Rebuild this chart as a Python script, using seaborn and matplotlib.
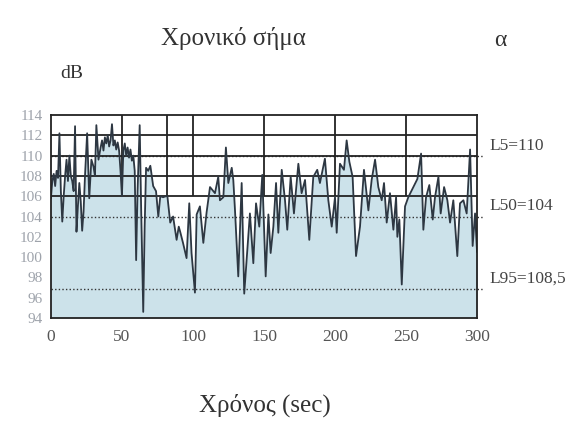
import matplotlib
matplotlib.use("Agg")
import matplotlib.pyplot as plt
import matplotlib.transforms as mtransforms
import seaborn as sns
import pandas as pd

# Χρονικό σήμα - στάθμη θορύβου (dB) ανά δευτερόλεπτο, διαβασμένη από την εικόνα
time_s = [0, 1, 2, 3, 4, 5, 6, 7, 8, 9, 10, 11, 12, 13, 14, 15, 16, 17, 18, 19,
          20, 21, 22, 23, 24, 25.5, 27, 28.5, 30, 31, 32, 33.5, 35, 36, 37, 38,
          39, 40, 41, 42, 43, 44, 45, 46, 47, 48, 49, 50, 51, 52, 53, 54, 55, 56,
          57, 58, 59, 60, 61, 62.5, 63.5, 65, 66, 67, 68.5, 70, 71, 72, 74, 75.6,
          77, 79, 81, 82, 84, 86, 88.5, 90, 91, 93, 95.5, 97.4, 99, 101.4, 102.6,
          104.9, 107.3, 109.6, 112, 115.5, 117.8, 119, 121.4, 123.2, 124.9, 127.3,
          128.4, 129.6, 131.9, 134.3, 136.1, 137.8, 140.1, 142.5, 144.4, 146.7,
          148.8, 151.2, 153.1, 154.7, 156.6, 158.5, 160.1, 162.5, 164.8, 166.4,
          168.8, 171.1, 174.2, 176.5, 178.9, 181.9, 184.7, 187.5, 189.4, 192.9,
          195.3, 197.7, 200, 201.2, 203.5, 206.3, 208.2, 210.1, 212.4, 214.8,
          217.6, 220.4, 223.5, 225.8, 228.2, 230.5, 232.9, 234.5, 236.4, 238.7,
          241.1, 243, 243.9, 245.3, 247, 249.3, 251.6, 255.2, 258, 260.6, 262.2,
          264.1, 266.4, 268.8, 270.4, 272.8, 274.4, 276.8, 279.1, 281, 283.3,
          286.1, 288, 290.4, 292.7, 295.1, 296.9, 298.6, 300]
level_db = [105.8, 107.5, 108.2, 107.0, 108.5, 107.8, 112.2, 106.5, 103.5, 106.0,
            108.0, 109.6, 107.5, 110.0, 108.0, 107.5, 106.5, 112.9, 102.5, 105.0,
            107.3, 105.5, 102.6, 104.5, 108.0, 112.2, 105.8, 109.6, 108.9, 108.0,
            113.0, 109.6, 110.8, 111.5, 110.5, 111.8, 111.2, 112.0, 110.9, 111.5,
            113.1, 111.0, 111.5, 110.6, 111.3, 110.5, 108.5, 106.0, 110.5, 111.2,
            110.0, 110.8, 109.8, 110.6, 109.5, 110.0, 108.5, 99.7, 106.5, 113.0,
            105.0, 94.6, 103.0, 108.8, 108.5, 109.0, 108.0, 107.0, 106.5, 104.0,
            106.0, 105.9, 106.0, 106.0, 103.4, 104.0, 101.7, 103.0, 102.5, 101.4,
            99.9, 105.3, 100.4, 96.5, 104.2,
            105.0, 101.4, 104.4, 106.9, 106.3, 107.9, 105.6, 105.9, 110.8, 107.3,
            108.8, 107.6, 104.6, 98.1, 107.3, 96.4, 99.7, 104.3, 99.4, 105.3,
            103.0, 108.1, 98.1, 104.2, 100.4, 103.0, 107.3, 102.4, 108.6, 105.6,
            102.7, 107.9, 104.3, 109.2, 106.3, 107.6, 101.7, 107.9, 108.6, 107.3,
            109.7, 105.6, 103.0, 105.9, 102.4, 109.2, 108.6, 111.5, 109.4, 107.9,
            100.1,
            103.0, 108.6, 104.6, 107.6, 109.6, 106.9, 105.6, 107.3, 103.4, 106.3,
            102.7, 105.9, 102.0, 103.7, 97.3, 105.0, 105.9, 106.9, 107.7, 110.2,
            102.7, 105.9, 107.1, 103.7, 105.9, 107.9, 104.3, 106.9, 105.6, 103.4,
            105.6, 100.1, 105.3, 105.6, 104.3, 110.6, 101.1, 104.3, 100.5]

x_ticks = [0, 50, 100, 150, 200, 250, 300]
y_ticks = [94, 96, 98, 100, 102, 104, 106, 108, 110, 112, 114]
grid_x = [50, 82, 100, 150, 200, 250]
grid_y = [106, 108, 110, 112]
grid_floor = 106
stat_levels = [110, 104, 96.9]
stat_labels = ["L5=110", "L50=104", "L95=108,5"]

sns.set_theme(style="white")
plt.rcParams['font.family'] = ['Liberation Serif', 'DejaVu Serif']

df = pd.DataFrame({'t': time_s, 'db': level_db})

fig = plt.figure(figsize=(5.72, 4.30), dpi=100)
ax = fig.add_axes([0.089, 0.2605, 0.745, 0.472])

# γέμισμα κάτω από την καμπύλη
ax.fill_between(df['t'], 94, df['db'], color='#cce2ea', lw=0, zorder=1)

# στατιστικές στάθμες (διακεκομμένες)
ax.hlines(stat_levels, 0, 304, colors='#333333', linestyles=(0, (1, 1.6)),
          lw=1.0, zorder=2, clip_on=False)

# πλέγμα μόνο στο πάνω μέρος
ax.hlines(grid_y, 0, 300, colors='#222222', lw=1.3, zorder=3)
ax.vlines(grid_x, grid_floor, 114, colors='#222222', lw=1.3, zorder=3)

sns.lineplot(data=df, x='t', y='db', color='#2d3742', lw=1.3, ax=ax, zorder=4)

ax.set_xlim(0, 300)
ax.set_ylim(94, 114)
ax.set_xticks(x_ticks)
ax.set_yticks(y_ticks)
ax.set_xlabel('')
ax.set_ylabel('')
ax.tick_params(axis='x', length=0, pad=8, labelsize=12.5, labelcolor='#555555')
ax.tick_params(axis='y', length=0, pad=6, labelsize=11, labelcolor='#9ea3ab')
for sp in ax.spines.values():
    sp.set_color('#222222')
    sp.set_linewidth(1.3)
    sp.set_zorder(5)

trans = mtransforms.blended_transform_factory(ax.transAxes, ax.transData)
for lev, lab in zip(stat_levels, stat_labels):
    ax.text(1.03, lev + 0.2, lab, transform=trans, ha='left', va='bottom',
            fontsize=12.5, color='#444444')

fig.text(233 / 572, 1 - 38 / 430, "Χρονικό σήμα", ha='center', va='center',
         fontsize=18, color='#333333')
fig.text(500 / 572, 1 - 40 / 430, "α", ha='center', va='center',
         fontsize=17, color='#333333')
fig.text(72 / 572, 1 - 73 / 430, "dB", ha='center', va='center',
         fontsize=14, color='#333333')
fig.text(265 / 572, 1 - 405 / 430, "Χρόνος (sec)", ha='center', va='center',
         fontsize=18, color='#333333')

fig.savefig("out.png", dpi=100)
